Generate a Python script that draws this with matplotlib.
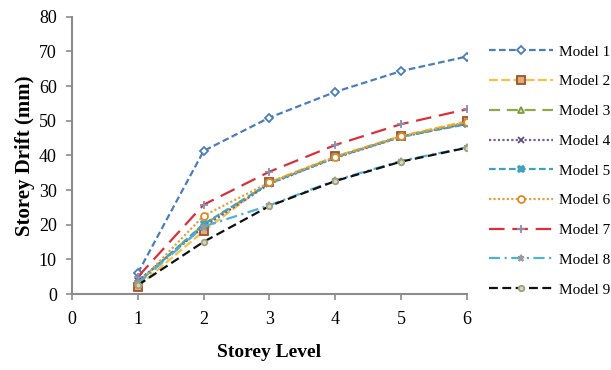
import matplotlib
matplotlib.use("Agg")
import matplotlib.pyplot as plt

plt.rcParams["font.family"] = ["Liberation Serif", "DejaVu Serif"]

storey_levels = [1, 2, 3, 4, 5, 6]
model_names = [f"Model {i}" for i in range(1, 10)]

model_1 = [6.1, 41.3, 50.9, 58.3, 64.3, 68.5]
model_2 = [2.2, 18.2, 32.3, 39.7, 45.6, 49.9]
model_3 = [3.5, 20.0, 32.0, 39.5, 45.4, 49.3]
model_4 = [3.8, 19.4, 31.8, 39.3, 45.3, 49.2]
model_5 = [3.3, 20.2, 31.9, 39.4, 45.4, 49.0]
model_6 = [3.0, 22.6, 32.2, 39.6, 45.5, 49.6]
model_7 = [5.0, 25.8, 35.3, 43.0, 49.0, 53.3]
model_8 = [3.0, 19.5, 25.6, 32.8, 38.4, 42.3]
model_9 = [2.6, 15.1, 25.4, 32.6, 38.2, 42.2]

series = [model_1, model_2, model_3, model_4, model_5, model_6, model_7, model_8, model_9]

# style per model: (line colour, dash pattern, marker, marker face, marker edge, marker size)
styles = [
    ("#4A7EBB", (0, (3, 1.5)), "D", "white", "#4A7EBB", 4.5),
    ("#F5C242", (0, (4, 1.5)), "s", "#D7B07A", "#A0522D", 5.5),
    ("#8DAA4A", (0, (5, 3)), "^", "#D6E3BC", "#7E9C3A", 5),
    ("#7A5C98", (0, (1, 1)), "x", "none", "#5E4A82", 5),
    ("#3FA3BD", (0, (3, 1.5)), "X", "#3FA3BD", "#3FA3BD", 5),
    ("#E8A03A", (0, (1, 1)), "o", "white", "#E08A20", 5),
    ("#D9313B", (0, (7, 3.5)), "+", "none", "#8C8CB0", 6),
    ("#4FB0D8", (0, (5, 2, 1, 2)), "*", "#9A9A9A", "#9A9A9A", 5),
    ("#111111", (0, (4, 2)), "o", "#D8D8B8", "#A0A080", 4),
]

fig = plt.figure(figsize=(6.11, 3.70), dpi=100)
ax = fig.add_axes([0.118, 0.205, 0.646, 0.75])

for name, values, (color, dash, marker, mfc, mec, ms) in zip(model_names, series, styles):
    ax.plot(storey_levels, values, color=color, linestyle=dash, linewidth=1.6,
            marker=marker, markerfacecolor=mfc, markeredgecolor=mec,
            markersize=ms, markeredgewidth=1.3, label=name)

ax.set_xlim(0, 6)
ax.set_ylim(0, 80)
ax.set_xticks(range(0, 7))
ax.set_yticks(range(0, 81, 10))

for side in ("top", "right"):
    ax.spines[side].set_visible(False)
for side in ("left", "bottom"):
    ax.spines[side].set_color("#8C8C8C")
    ax.spines[side].set_linewidth(1.5)
ax.tick_params(axis="both", colors="#8C8C8C", labelcolor="black", labelsize=13,
               length=4, width=1.2)
ax.tick_params(axis="x", pad=8)
ax.tick_params(axis="y", pad=7)

ax.set_xlabel("Storey Level", fontsize=14, fontweight="bold", labelpad=12)
ax.set_ylabel("Storey Drift (mm)", fontsize=15, fontweight="bold", labelpad=3)

ax.legend(loc="upper left", bbox_to_anchor=(1.04, 0.92), frameon=False,
          fontsize=11, handlelength=4.2, handletextpad=0.4, labelspacing=1.05,
          borderaxespad=0)

fig.savefig("out.png", dpi=100)
